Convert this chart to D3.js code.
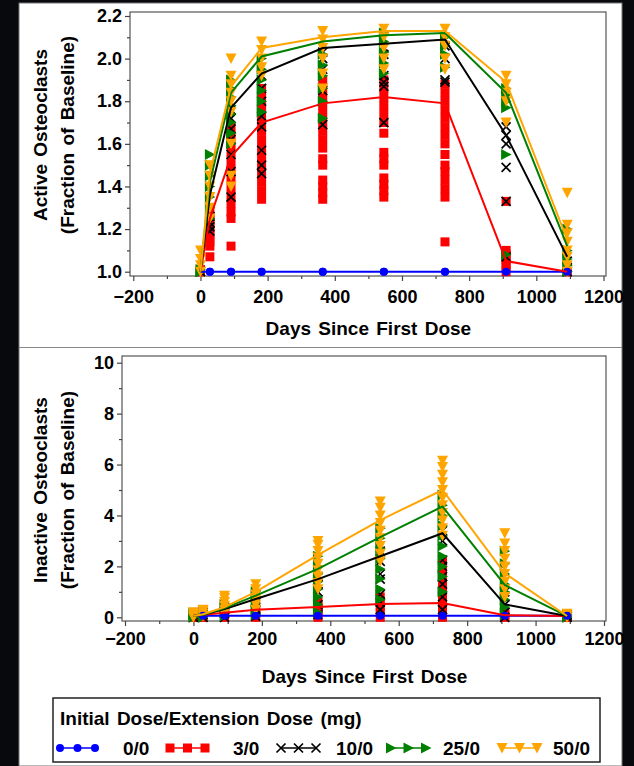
<!DOCTYPE html>
<html>
<head>
<meta charset="utf-8">
<script src="https://d3js.org/d3.v7.min.js"></script>
<style>
  body { margin: 0; background: #07090d; }
  text { font-family: "Liberation Sans", Arial, sans-serif; font-weight: bold; fill: #000; }
</style>
</head>
<body>
<div id="chart"></div>
<script>
// visit days
var days = [0, 28, 91, 182, 364, 546, 728, 910, 1092];
var groupNames = ["0/0", "3/0", "10/0", "25/0", "50/0"];
var xTicks = [-200, 0, 200, 400, 600, 800, 1000, 1200];
var activeTicks = [1.0, 1.2, 1.4, 1.6, 1.8, 2.0, 2.2];
var inactiveTicks = [0, 2, 4, 6, 8, 10];

// group mean, active osteoclasts
var activeMean00 = [1.0, 1.0, 1.0, 1.0, 1.0, 1.0, 1.0, 1.0, 1.0];
var activeMean30 = [1.0, 1.25, 1.54, 1.70, 1.79, 1.82, 1.79, 1.05, 1.0];
var activeMean100 = [1.0, 1.36, 1.77, 1.93, 2.05, 2.07, 2.09, 1.64, 1.07];
var activeMean250 = [1.0, 1.42, 1.84, 2.01, 2.08, 2.11, 2.12, 1.84, 1.12];
var activeMean500 = [1.0, 1.46, 1.87, 2.05, 2.10, 2.13, 2.13, 1.89, 1.15];

// individual subjects, active osteoclasts (one list per visit)
var activePts00 = [[1.0], [1.0], [1.0], [1.0], [1.0], [1.0], [1.0], [1.0], [1.0]];
var activePts30 = [
  [1.0, 1.0, 1.01],
  [1.07, 1.12, 1.14, 1.16, 1.18, 1.2, 1.22, 1.24, 1.26, 1.28],
  [1.12, 1.25, 1.28, 1.32, 1.36, 1.4, 1.44, 1.48, 1.52, 1.56, 1.6, 1.64, 1.68],
  [1.34, 1.38, 1.42, 1.46, 1.5, 1.54, 1.58, 1.62, 1.66, 1.7, 1.74, 1.78, 1.82, 1.86],
  [1.34, 1.37, 1.4, 1.43, 1.5, 1.53, 1.58, 1.62, 1.66, 1.7, 1.74, 1.78, 1.82, 1.86, 1.9],
  [1.35, 1.38, 1.41, 1.44, 1.5, 1.53, 1.56, 1.65, 1.7, 1.74, 1.78, 1.82, 1.86, 1.9],
  [1.14, 1.35, 1.39, 1.43, 1.47, 1.5, 1.55, 1.6, 1.64, 1.68, 1.72, 1.76, 1.8, 1.84, 1.88],
  [1.0, 1.02, 1.04, 1.06, 1.08, 1.1, 1.33],
  [1.0, 1.0]
];
var activePts100 = [
  [1.0],
  [1.19, 1.21, 1.23, 1.26],
  [1.35, 1.47, 1.55, 1.62, 1.67, 1.72, 1.76],
  [1.46, 1.5, 1.57, 1.68, 1.73, 1.8, 1.86, 1.92],
  [1.69, 1.85, 1.95, 2.0, 2.03],
  [1.70, 1.87, 1.89, 1.92, 2.02, 2.05],
  [1.89, 1.9, 2.0, 2.06, 2.09],
  [1.07, 1.33, 1.49, 1.6, 1.64, 1.68],
  [1.0, 1.02, 1.05]
];
var activePts250 = [
  [1.0, 1.0, 1.01],
  [1.25, 1.3, 1.35, 1.4, 1.45, 1.5, 1.55],
  [1.6, 1.65, 1.7, 1.74, 1.78, 1.82, 1.86, 1.9],
  [1.75, 1.8, 1.85, 1.9, 1.95, 2.0],
  [1.72, 1.8, 1.86, 1.92, 1.97, 2.02],
  [1.93, 1.98, 2.03, 2.08, 2.12],
  [1.96, 2.02, 2.06, 2.1],
  [1.08, 1.55, 1.77, 1.8, 1.83, 1.86],
  [1.0, 1.03, 1.06, 1.1, 1.2]
];
var activePts500 = [
  [1.0, 1.03, 1.06, 1.1],
  [1.25, 1.3, 1.35, 1.4, 1.45, 1.5],
  [1.4, 1.45, 1.6, 1.75, 1.8, 1.84, 1.88, 1.92, 2.0],
  [1.92, 1.96, 2.0, 2.04, 2.08],
  [1.86, 1.93, 2.0, 2.05, 2.09, 2.13],
  [1.95, 2.0, 2.05, 2.1, 2.14],
  [1.95, 2.0, 2.06, 2.1, 2.14],
  [1.7, 1.8, 1.84, 1.88, 1.92],
  [1.0, 1.03, 1.07, 1.1, 1.14, 1.18, 1.22, 1.37]
];

// group mean, inactive osteoclasts
var inactiveMean00 = [0.06, 0.06, 0.06, 0.06, 0.06, 0.06, 0.06, 0.06, 0.06];
var inactiveMean30 = [0.05, 0.1, 0.18, 0.3, 0.4, 0.52, 0.56, 0.08, 0.05];
var inactiveMean100 = [0.05, 0.1, 0.32, 0.72, 1.5, 2.4, 3.3, 0.51, 0.05];
var inactiveMean250 = [0.05, 0.1, 0.36, 0.85, 1.9, 3.15, 4.35, 1.27, 0.05];
var inactiveMean500 = [0.05, 0.12, 0.4, 1.0, 2.45, 3.82, 5.0, 1.73, 0.05];

// individual subjects, inactive osteoclasts
var inactivePts00 = [[0], [0], [0], [0], [0], [0], [0], [0], [0]];
var inactivePts30 = [
  [0, 0.05, 0.1], [0, 0.1, 0.2], [0, 0.1, 0.2], [0, 0.15, 0.3, 0.5],
  [0, 0.15, 0.3, 0.45, 0.6], [0, 0.2, 0.4, 0.6, 0.8],
  [0, 0.2, 0.5, 0.8, 1.1, 1.4, 1.8, 2.2], [0, 0.05, 0.1, 0.2], [0, 0.05]
];
var inactivePts100 = [
  [0, 0.1], [0, 0.1, 0.2], [0, 0.15, 0.3, 0.4], [0.05, 0.3, 0.6, 0.9],
  [0.1, 0.5, 1.0, 1.3, 1.6], [0.3, 0.6, 0.9, 1.5, 1.7, 2.2, 2.6],
  [0.3, 0.8, 1.3, 1.6, 2.0, 2.25, 3.0, 3.4], [0, 0.2, 0.5, 0.8, 1.0], [0, 0.05, 0.1]
];
var inactivePts250 = [
  [0, 0.1, 0.15], [0, 0.1, 0.2, 0.25], [0.05, 0.2, 0.35, 0.5], [0.1, 0.3, 0.55, 0.8, 1.0],
  [0.2, 0.5, 0.8, 1.1, 1.4, 1.7, 2.0, 2.4], [0.7, 1.1, 1.5, 1.9, 2.3, 2.7, 3.1, 3.5],
  [1.0, 1.6, 2.0, 2.4, 2.8, 3.2, 3.6, 4.0, 4.4, 4.8], [0.1, 0.4, 0.7, 1.0, 1.3, 1.7, 2.1, 2.6],
  [0, 0.05, 0.12]
];
var inactivePts500 = [
  [0, 0.1, 0.2], [0.05, 0.15, 0.25, 0.3], [0.15, 0.3, 0.45, 0.6, 0.75, 0.85],
  [0.3, 0.5, 0.7, 0.9, 1.1, 1.3], [1.1, 1.35, 1.6, 1.85, 2.1, 2.35, 2.6, 2.85, 3.0],
  [2.2, 2.5, 2.8, 3.1, 3.4, 3.7, 4.0, 4.3, 4.55],
  [3.2, 3.5, 3.8, 4.1, 4.4, 4.7, 5.0, 5.3, 5.6, 5.9, 6.15],
  [0.8, 1.1, 1.4, 1.7, 2.0, 2.3, 2.6, 2.9, 3.3], [0, 0.07, 0.14]
];

var colors = ["#0000ff", "#ff0000", "#000000", "#008000", "#ffa500"];
var shapes = ["circle", "square", "x", "triright", "tridown"];

var W = 634, H = 766;
var svg = d3.select("#chart").append("svg")
  .attr("width", W).attr("height", H);

// white page with dark frame around
svg.append("rect").attr("x", 0).attr("y", 0).attr("width", W).attr("height", H).attr("fill", "#07090d");
svg.append("rect").attr("x", 19).attr("y", 3).attr("width", 603).attr("height", H - 3)
  .attr("fill", "#fff").attr("stroke", "#777").attr("stroke-width", 1);
svg.append("line").attr("x1", 19).attr("x2", 622).attr("y1", 347.5).attr("y2", 347.5)
  .attr("stroke", "#888").attr("stroke-width", 1);

function drawMarker(g, shape, color, x, y) {
  if (shape == "circle") {
    g.append("circle").attr("cx", x).attr("cy", y).attr("r", 4).attr("fill", color);
  } else if (shape == "square") {
    g.append("rect").attr("x", x - 4.5).attr("y", y - 4.5).attr("width", 9).attr("height", 9).attr("fill", color);
  } else if (shape == "x") {
    g.append("path").attr("d", "M" + (x - 4.5) + "," + (y - 4.5) + "L" + (x + 4.5) + "," + (y + 4.5)
        + "M" + (x - 4.5) + "," + (y + 4.5) + "L" + (x + 4.5) + "," + (y - 4.5))
      .attr("stroke", color).attr("stroke-width", 1.7).attr("fill", "none");
  } else if (shape == "triright") {
    g.append("path").attr("d", "M" + (x - 5) + "," + (y - 5.5) + "L" + (x + 5.5) + "," + y + "L" + (x - 5) + "," + (y + 5.5) + "Z")
      .attr("fill", color);
  } else {
    g.append("path").attr("d", "M" + (x - 5.5) + "," + (y - 5) + "L" + (x + 5.5) + "," + (y - 5) + "L" + x + "," + (y + 5.5) + "Z")
      .attr("fill", color);
  }
}

function drawPanel(p) {
  var x = d3.scaleLinear().domain([-200, 1200]).range([p.x0, p.x1]);
  var y = d3.scaleLinear().domain(p.yDomain).range([p.y0, p.y1]);
  var g = svg.append("g");

  // frame
  g.append("rect").attr("x", p.left).attr("y", p.top)
    .attr("width", p.right - p.left).attr("height", p.bottom - p.top)
    .attr("fill", "none").attr("stroke", "#555").attr("stroke-width", 1.2);

  // minor ticks
  g.append("g").attr("transform", "translate(0," + p.bottom + ")")
    .call(d3.axisBottom(x).tickValues(d3.range(-100, 1200, 200)).tickSize(3).tickFormat(""))
    .call(function (a) { a.select(".domain").remove(); });
  g.append("g").attr("transform", "translate(" + p.left + ",0)")
    .call(d3.axisLeft(y).tickValues(p.minor).tickSize(3).tickFormat(""))
    .call(function (a) { a.select(".domain").remove(); });

  // major ticks + labels
  var xa = g.append("g").attr("transform", "translate(0," + p.bottom + ")")
    .call(d3.axisBottom(x).tickValues(xTicks).tickSize(5).tickPadding(p.xPad).tickFormat(d3.format("d")));
  xa.select(".domain").remove();
  var ya = g.append("g").attr("transform", "translate(" + p.left + ",0)")
    .call(d3.axisLeft(y).tickValues(p.ticks).tickSize(5).tickPadding(3).tickFormat(p.fmt));
  ya.select(".domain").remove();
  g.selectAll(".tick line").attr("stroke", "#444").attr("stroke-width", 1.2);
  g.selectAll(".tick text").style("font-size", "18px").style("font-weight", "bold")
    .style("font-family", "'Liberation Sans', Arial, sans-serif").attr("fill", "#000");

  // subjects
  var mk = g.append("g");
  p.pts.forEach(function (grp, gi) {
    grp.forEach(function (vals, di) {
      vals.forEach(function (v) {
        drawMarker(mk, shapes[gi], colors[gi], x(days[di]), y(v));
      });
    });
  });

  // group means
  var line = d3.line().x(function (d, i) { return x(days[i]); }).y(function (d) { return y(d); });
  p.means.forEach(function (m, gi) {
    g.append("path").datum(m).attr("d", line)
      .attr("fill", "none").attr("stroke", colors[gi]).attr("stroke-width", 2);
    if (gi == 0) {
      m.forEach(function (v, di) { if (di > 0) drawMarker(g, "circle", colors[0], x(days[di]), y(v)); });
    }
  });

  // axis titles
  g.append("text").attr("x", (p.x0 + p.x1) / 2).attr("y", p.xTitleY)
    .attr("text-anchor", "middle").style("font-size", "19px").style("word-spacing", "2px")
    .text("Days Since First Dose");
  p.yTitle.forEach(function (t, i) {
    g.append("text")
      .attr("transform", "translate(" + (47 + i * 27) + "," + p.yTitleMid + ") rotate(-90)")
      .attr("text-anchor", "middle").style("font-size", "19px").style("word-spacing", "2px")
      .text(t);
  });
}

drawPanel({
  left: 130, right: 606, top: 12, bottom: 276,
  x0: 133.3, x1: 603.5, y0: 271.7, y1: 16, yDomain: [1.0, 2.2],
  ticks: activeTicks, minor: [1.1, 1.3, 1.5, 1.7, 1.9, 2.1], fmt: d3.format(".1f"),
  xPad: 9, xTitleY: 335, yTitleMid: 135,
  yTitle: ["Active Osteoclasts", "(Fraction of Baseline)"],
  pts: [activePts00, activePts30, activePts100, activePts250, activePts500],
  means: [activeMean00, activeMean30, activeMean100, activeMean250, activeMean500]
});

drawPanel({
  left: 122, right: 606, top: 356, bottom: 621,
  x0: 125, x1: 604, y0: 617.3, y1: 362.7, yDomain: [0, 10],
  ticks: inactiveTicks, minor: [1, 3, 5, 7, 9], fmt: d3.format("d"),
  xPad: 6, xTitleY: 683, yTitleMid: 490,
  yTitle: ["Inactive Osteoclasts", "(Fraction of Baseline)"],
  pts: [inactivePts00, inactivePts30, inactivePts100, inactivePts250, inactivePts500],
  means: [inactiveMean00, inactiveMean30, inactiveMean100, inactiveMean250, inactiveMean500]
});

// legend
var lg = svg.append("g");
lg.append("rect").attr("x", 53).attr("y", 698).attr("width", 547).attr("height", 64)
  .attr("fill", "#fff").attr("stroke", "#222").attr("stroke-width", 1.5);
lg.append("text").attr("x", 60).attr("y", 725).style("font-size", "19px").style("word-spacing", "2px")
  .text("Initial Dose/Extension Dose (mg)");
var legSym = [60, 170, 281, 391, 502];
var legText = [123, 233, 336, 443, 553];
groupNames.forEach(function (n, i) {
  var sx = legSym[i];
  lg.append("line").attr("x1", sx).attr("x2", sx + 35).attr("y1", 748).attr("y2", 748)
    .attr("stroke", colors[i]).attr("stroke-width", 1.5);
  [0, 17.5, 35].forEach(function (dx) { drawMarker(lg, shapes[i], colors[i], sx + dx, 748); });
  lg.append("text").attr("x", legText[i]).attr("y", 755).style("font-size", "19px").text(n);
});
</script>
</body>
</html>
